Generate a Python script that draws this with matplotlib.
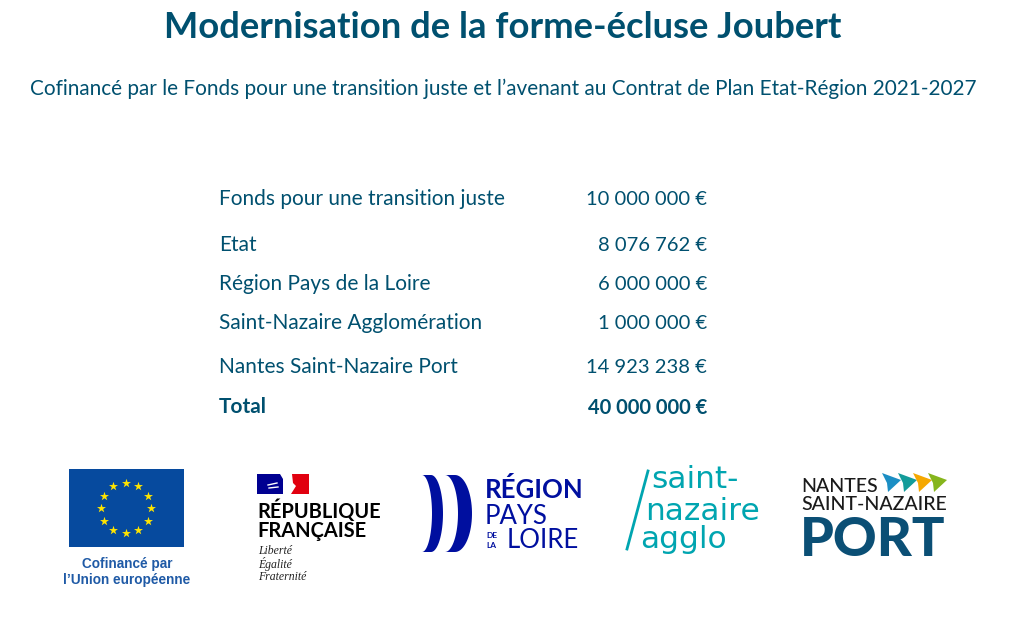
"""Financing slide for the forme-ecluse Joubert."""
import numpy as np
import matplotlib
matplotlib.use('Agg')
import matplotlib.pyplot as plt
from matplotlib.patches import Polygon, Rectangle

TITLE = 'Modernisation de la forme-écluse Joubert'
SUBTITLE = ('Cofinancé par le Fonds pour une transition juste et l’avenant '
            'au Contrat de Plan Etat-Région 2021-2027')
FUNDERS = ['Fonds pour une transition juste', 'Etat',
           'Région Pays de la Loire', 'Saint-Nazaire Agglomération',
           'Nantes Saint-Nazaire Port', 'Total']
AMOUNTS = ['10 000 000 €', '8 076 762 €', '6 000 000 €', '1 000 000 €',
           '14 923 238 €', '40 000 000 €']
ROW_Y = [199, 245, 284, 323, 367, 407]

TEAL = '#00506F'
NAVY = '#000F9F'
AQUA = '#00A5B0'
PORT = '#0B4F75'

plt.rcParams['font.family'] = ['Lato', 'DejaVu Sans']

fig = plt.figure(figsize=(10.12, 6.21), dpi=100)
ax = fig.add_axes([0, 0, 1, 1])
ax.set_xlim(0, 1012)
ax.set_ylim(621, 0)
ax.axis('off')


def txt(x, y, s, size, color='black', **kw):
    kw.setdefault('va', 'center')
    ax.text(x, y, s, fontsize=size, color=color, **kw)


txt(503, 27, TITLE, 26.2, TEAL, ha='center', fontweight='bold')
txt(503, 89, SUBTITLE, 14.95, TEAL, ha='center')

for name, amount, y in zip(FUNDERS, AMOUNTS, ROW_Y):
    weight = 'bold' if name == 'Total' else 'normal'
    txt(219, y, name, 15, TEAL, fontweight=weight)
    txt(707, y + 0.6, amount, 14.5, TEAL, ha='right', fontweight=weight)

# EU flag
ax.add_patch(Rectangle((69, 469), 115, 78, color='#064A9E', lw=0))
angles = np.arange(12) * np.pi / 6
ax.scatter(126 + 25 * np.sin(angles), 508 - 25 * np.cos(angles),
           marker='*', s=46, color='#FFE400', lw=0, zorder=3)
txt(127, 564, 'Cofinancé par', 9.8, '#1F5AA6', ha='center',
    family=['Liberation Sans'], fontweight='bold')
txt(127, 580, 'l’Union européenne', 9.8, '#1F5AA6', ha='center',
    family=['Liberation Sans'], fontweight='bold')

# Republique francaise
ax.add_patch(Rectangle((257, 474), 26, 20, color='#000091', lw=0))
ax.add_patch(Rectangle((287, 474), 22, 20, color='#E1000F', lw=0))
ax.add_patch(Polygon([(280, 474), (292, 474), (293, 483), (296, 486),
                      (291, 494), (283, 494), (286, 484)],
                     color='white', lw=0))
ax.plot([268, 277], [485, 483], color='white', lw=1)
ax.plot([269, 278], [488, 487], color='white', lw=1)
txt(257, 511, 'RÉPUBLIQUE', 14.4, 'black', fontweight='bold')
txt(257, 531, 'FRANÇAISE', 14.4, 'black', fontweight='bold')
for y, s in zip([551, 564, 577], ['Liberté', 'Égalité', 'Fraternité']):
    txt(258, y, s, 8.5, '#222222', family=['Liberation Serif'],
        style='italic')

# Region Pays de la Loire
t = np.linspace(-np.pi / 2, np.pi / 2, 40)
for inner_top, outer_top, inner_mid, outer_mid in [(422, 431, 432, 443),
                                                   (445, 455, 458, 472)]:
    outer = np.c_[outer_top + (outer_mid - outer_top) * np.cos(t),
                  513.5 + 38.5 * np.sin(t)]
    inner = np.c_[inner_top + (inner_mid - inner_top) * np.cos(t[::-1]),
                  513.5 + 38.5 * np.sin(t[::-1])]
    ax.add_patch(Polygon(np.r_[outer, inner], color=NAVY, lw=0))
txt(485, 490, 'RÉGION', 18.5, NAVY, fontweight='bold')
txt(485, 516, 'PAYS', 18.5, NAVY)
txt(486, 536, 'DE', 6, NAVY, fontweight='bold')
txt(486, 546, 'LA', 6, NAVY, fontweight='bold')
txt(507, 541, 'LOIRE', 18.5, NAVY)

# Saint-Nazaire agglo
ax.plot([648, 627], [471, 549], color=AQUA, lw=2)
for x, y, s in zip([651, 645, 640], [488, 520, 548],
                   ['saint-', 'nazaire', 'agglo']):
    txt(x, y, s, 22.5, AQUA, family=['DejaVu Sans'], va='baseline')

# Nantes Saint-Nazaire Port
for x0, c in zip([882, 898, 913, 928],
                 ['#1B8EC4', '#139C9A', '#F5A800', '#86B51C']):
    ax.add_patch(Polygon([(x0, 473), (x0 + 19, 480), (x0 + 6, 492),
                          (x0 + 5, 483)], color=c, lw=0))
txt(801, 487, 'NANTES', 14, '#1A1A1A', fontweight='medium')
txt(801, 505, 'SAINT-NAZAIRE', 14, '#1A1A1A', fontweight='medium')
txt(800, 540, 'PORT', 39, PORT, fontweight='black')

fig.savefig('out.png', dpi=100, facecolor='white')
